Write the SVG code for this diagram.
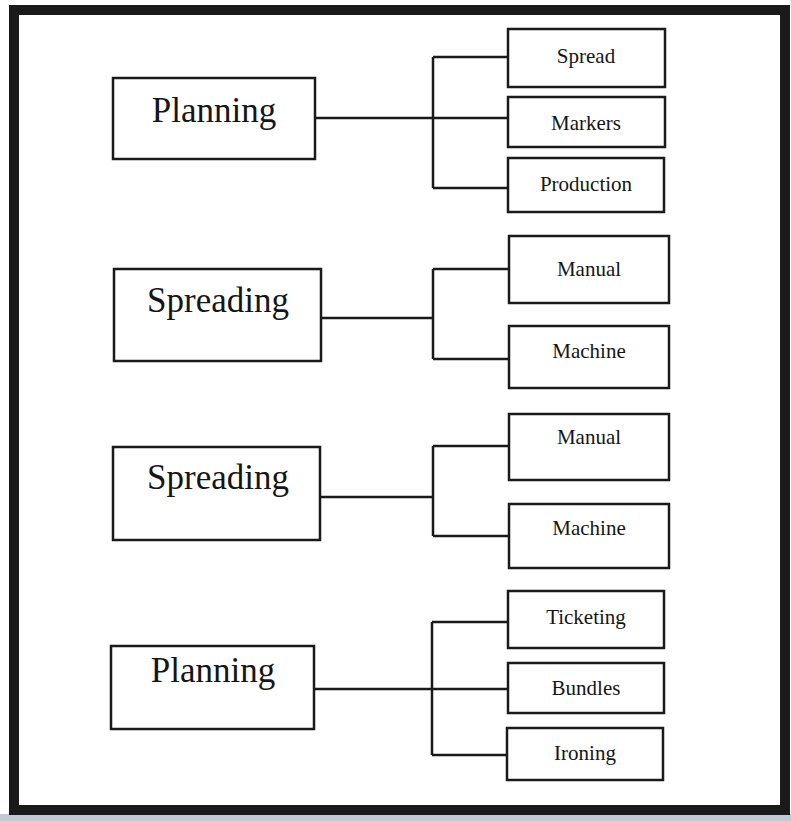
<svg xmlns="http://www.w3.org/2000/svg" width="791" height="821" viewBox="0 0 791 821">
<style>
.box{fill:#fff;stroke:#1a1a1a;stroke-width:2.5}
.big{font-family:"Liberation Serif","Times New Roman",serif;font-size:35px;fill:#151515;text-anchor:middle}
.small{font-family:"Liberation Serif","Times New Roman",serif;font-size:21px;fill:#151515;text-anchor:middle}
.conn{fill:none;stroke:#1a1a1a;stroke-width:2.5}
</style>
<rect x="0" y="0" width="791" height="821" fill="#ffffff"/>
<rect x="0" y="814" width="791" height="7" fill="#c3c9d2"/>
<rect x="14" y="10" width="771" height="800" fill="#fff" stroke="#1a1a1a" stroke-width="10"/>
<g id="connectors">
<path class="conn" d="M315 118 H508 M433 57 V188 M433 57 H508 M433 188 H508"/>
<path class="conn" d="M321 318 H433 M433 269 V359 M433 269 H509 M433 359 H509"/>
<path class="conn" d="M320 497 H433 M433 446 V536 M433 446 H509 M433 536 H509"/>
<path class="conn" d="M314 689 H508 M432 622 V755 M432 622 H508 M432 755 H507"/>
</g>
<g id="planning1"><rect class="box" x="113" y="78" width="202" height="81"/><text class="big" x="214" y="122">Planning</text></g>
<g id="spread"><rect class="box" x="508" y="29" width="157" height="58"/><text class="small" x="586" y="63">Spread</text></g>
<g id="markers"><rect class="box" x="508" y="97" width="157" height="50"/><text class="small" x="586" y="130">Markers</text></g>
<g id="production"><rect class="box" x="508" y="158" width="156" height="54"/><text class="small" x="586" y="191">Production</text></g>
<g id="spreading1"><rect class="box" x="114" y="269" width="207" height="92"/><text class="big" x="218" y="312">Spreading</text></g>
<g id="manual1"><rect class="box" x="509" y="236" width="160" height="67"/><text class="small" x="589" y="276">Manual</text></g>
<g id="machine1"><rect class="box" x="509" y="326" width="160" height="62"/><text class="small" x="589" y="358">Machine</text></g>
<g id="spreading2"><rect class="box" x="113" y="447" width="207" height="93"/><text class="big" x="218" y="489">Spreading</text></g>
<g id="manual2"><rect class="box" x="509" y="414" width="160" height="66"/><text class="small" x="589" y="444">Manual</text></g>
<g id="machine2"><rect class="box" x="509" y="504" width="160" height="64"/><text class="small" x="589" y="535">Machine</text></g>
<g id="planning2"><rect class="box" x="111" y="646" width="203" height="83"/><text class="big" x="213" y="682">Planning</text></g>
<g id="ticketing"><rect class="box" x="508" y="591" width="156" height="57"/><text class="small" x="586" y="624">Ticketing</text></g>
<g id="bundles"><rect class="box" x="508" y="663" width="156" height="50"/><text class="small" x="586" y="695">Bundles</text></g>
<g id="ironing"><rect class="box" x="507" y="728" width="156" height="52"/><text class="small" x="585" y="760">Ironing</text></g>
</svg>
